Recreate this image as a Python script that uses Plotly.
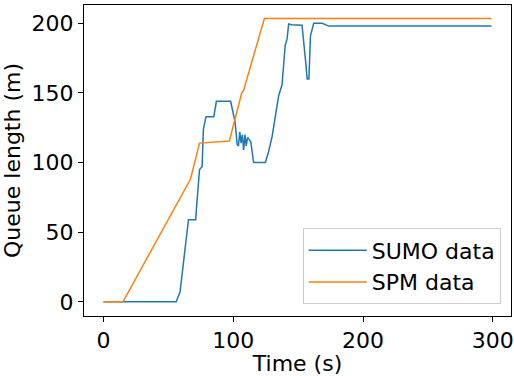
import plotly.graph_objects as go

sumo_t = [0, 56, 59, 61, 63, 65.5, 71, 74, 76, 77, 79, 85, 87, 98, 101.5, 103, 104, 105, 106, 107, 108, 109, 110, 111, 112, 113.5,
          115.7, 124.7, 127, 130, 132.4, 135, 137.6, 140, 141.5, 142.7, 145, 153, 155.6, 157, 158.3, 159.5, 162, 168.5, 173.5, 299]
sumo_y = [0, 0, 7, 22, 40, 59, 59, 95, 97, 124, 133, 133, 144, 144, 128.5, 113, 112, 122, 114, 120, 109, 120, 112, 118, 117, 115,
          100, 100, 107, 119, 133, 148, 156, 184, 189, 199.5, 199, 198.6, 174, 160, 160, 191, 200, 200, 198, 198]

spm_t = [0, 15, 67, 74, 97, 105, 106.5, 108, 124, 299]
spm_y = [0, 0, 88, 114, 115.5, 145, 150, 152, 203.5, 203.5]

fig = go.Figure()
fig.add_trace(go.Scatter(x=sumo_t, y=sumo_y, mode="lines", name="SUMO data", legendgroup="a",
                         line=dict(color="#1f77b4", width=1.5)))
fig.add_trace(go.Scatter(x=spm_t, y=spm_y, mode="lines", name="SPM data", legendgroup="b",
                         line=dict(color="#ff7f0e", width=1.5)))

font = dict(family="DejaVu Sans", size=22, color="black")
fig.update_layout(
    width=514, height=376,
    margin=dict(l=84, r=3, t=5, b=60),
    plot_bgcolor="white", paper_bgcolor="white",
    font=font,
    showlegend=True,
    legend=dict(x=0.976, y=0.037, xanchor="right", yanchor="bottom",
                bgcolor="rgba(255,255,255,0.8)", bordercolor="#cccccc", borderwidth=1,
                font=font, tracegroupgap=0, itemwidth=58),
)
fig.update_xaxes(range=[-15, 314], tickvals=[0, 100, 200, 300], showgrid=False, zeroline=False,
                 showline=True, linecolor="black", linewidth=1, mirror=True,
                 ticks="outside", ticklen=5, tickcolor="black", automargin=False,
                 title=dict(text="Time (s)", font=font, standoff=2))
fig.update_yaxes(range=[-10.15, 213.15], tickvals=[0, 50, 100, 150, 200], showgrid=False, zeroline=False,
                 showline=True, linecolor="black", linewidth=1, mirror=True,
                 ticks="outside", ticklen=5, tickcolor="black", automargin=False,
                 title=dict(text="Queue length (m)", font=font, standoff=6))

fig.write_html("out.html", config={"displayModeBar": False},
               post_script="document.body.style.margin='0';")
